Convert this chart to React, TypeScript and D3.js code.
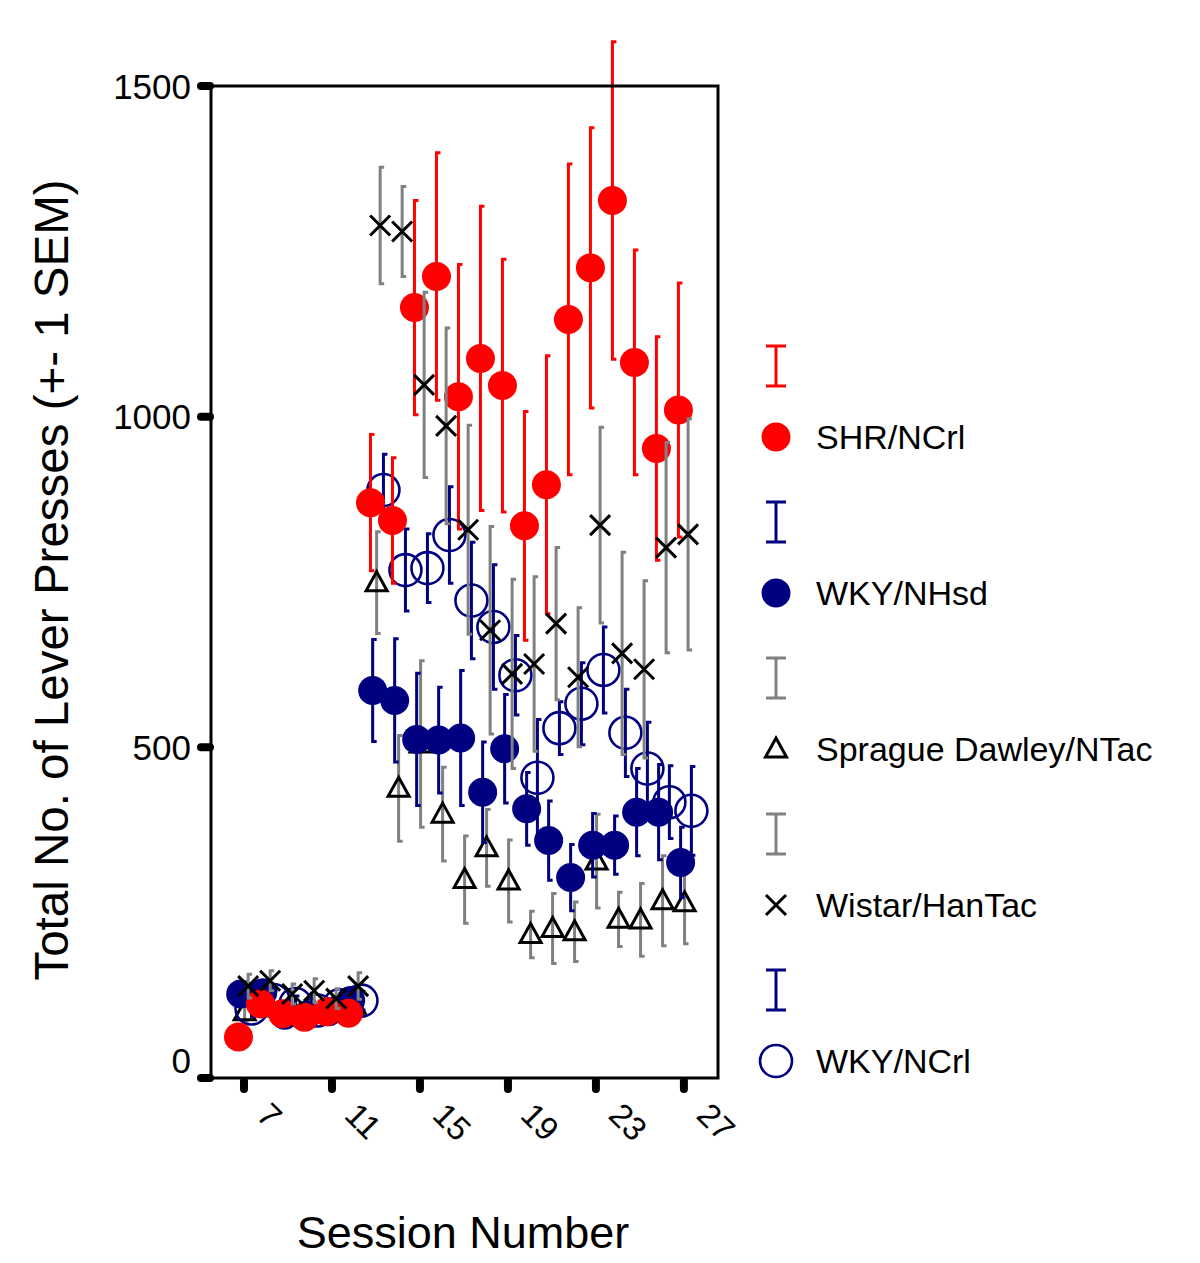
import * as d3 from "d3";

// sessions 7..27
const sessions = [7, 8, 9, 10, 11, 12, 13, 14, 15, 16, 17, 18, 19, 20, 21, 22, 23, 24, 25, 26, 27];

// SHR/NCrl
const shrMean = [62, 112, 97, 92, 100, 98, 870, 843, 1165, 1212, 1030, 1088, 1047, 835, 897, 1147, 1225, 1327, 1082, 952, 1010];
const shrSem = [8, 12, 10, 10, 12, 10, 103, 95, 162, 187, 200, 230, 191, 173, 195, 235, 212, 240, 170, 169, 192];

// WKY/NHsd
const nhsdMean = [127, 129, 95, 95, 100, 117, 586, 571, 512, 511, 514, 432, 498, 407, 359, 303, 352, 352, 402, 402, 326];
const nhsdSem = [12, 15, 10, 10, 10, 12, 77, 93, 100, 80, 102, 76, 82, 55, 60, 50, 48, 44, 66, 72, 53];

// Sprague Dawley/NTac
const sdMean = [100, 108, 105, 110, 105, 110, 749, 438, 505, 399, 300, 348, 298, 217, 226, 221, 328, 240, 239, 268, 265];
const sdSem = [14, 15, 14, 15, 14, 15, 77, 80, 126, 71, 66, 58, 62, 35, 53, 45, 71, 41, 55, 68, 62];

// Wistar/HanTac
const wistarMean = [139, 147, 127, 132, 120, 139, 1289, 1280, 1048, 986, 829, 677, 611, 626, 687, 606, 836, 642, 618, 802, 822];
const wistarSem = [18, 15, 15, 18, 15, 20, 88, 68, 140, 148, 158, 157, 143, 132, 115, 105, 148, 153, 134, 159, 175];

// WKY/NCrl
const ncrlMean = [105, 118, 112, 102, 110, 117, 889, 768, 771, 821, 722, 682, 609, 454, 529, 566, 617, 522, 468, 417, 404];
const ncrlSem = [12, 14, 12, 12, 12, 14, 54, 62, 52, 73, 88, 94, 60, 88, 40, 62, 65, 66, 70, 55, 67];

const yTicks = [0, 500, 1000, 1500];
const xTicks = [7, 11, 15, 19, 23, 27];

const FONT = "'Liberation Sans', Arial, Helvetica, sans-serif";
const RED = "#ff0000";
const NAVY = "#000080";
const GRAY = "#808080";

const x = d3.scaleLinear().domain([5.5, 28.55]).range([211, 718]);
const y = d3.scaleLinear().domain([0, 1500]).range([1078, 86]);

type Marker = "dot" | "ring" | "tri" | "cross";
type Series = { name: string; bar: string; color: string; mean: number[]; sem: number[]; off: number; marker: Marker };

// draw order: bottom to top
const series: Series[] = [
  { name: "Sprague Dawley/NTac", bar: GRAY, color: "#000", mean: sdMean, sem: sdSem, off: 0.03, marker: "tri" },
  { name: "WKY/NCrl", bar: NAVY, color: NAVY, mean: ncrlMean, sem: ncrlSem, off: 0.34, marker: "ring" },
  { name: "WKY/NHsd", bar: NAVY, color: NAVY, mean: nhsdMean, sem: nhsdSem, off: -0.15, marker: "dot" },
  { name: "SHR/NCrl", bar: RED, color: RED, mean: shrMean, sem: shrSem, off: -0.25, marker: "dot" },
  { name: "Wistar/HanTac", bar: GRAY, color: "#000", mean: wistarMean, sem: wistarSem, off: 0.19, marker: "cross" },
];

const legendOrder = ["SHR/NCrl", "WKY/NHsd", "Sprague Dawley/NTac", "Wistar/HanTac", "WKY/NCrl"];

function drawMarker(m: Marker, cx: number, cy: number, color: string, key: string) {
  if (m === "dot") return <circle key={key} cx={cx} cy={cy} r={14.5} fill={color} />;
  if (m === "ring") return <circle key={key} cx={cx} cy={cy} r={16} fill="none" stroke={color} strokeWidth={2.6} />;
  if (m === "tri")
    return (
      <path key={key} d={`M${cx},${cy - 11}L${cx + 10.5},${cy + 8}L${cx - 10.5},${cy + 8}Z`} fill="none" stroke={color} strokeWidth={3} />
    );
  return (
    <path key={key} d={`M${cx - 10},${cy - 10}L${cx + 10},${cy + 10}M${cx + 10},${cy - 10}L${cx - 10},${cy + 10}`} stroke={color} strokeWidth={3} fill="none" />
  );
}

export default function App() {
  return (
    <svg width={1200} height={1263} style={{ position: "absolute", left: 0, top: 0, background: "#fff" }} fontFamily={FONT}>
      <rect width={1200} height={1263} fill="#fff" />

      {/* data */}
      {series.map((s) => (
        <g key={s.name}>
          {sessions.map((d, i) => {
            const cx = x(d + s.off);
            const yt = y(s.mean[i] + s.sem[i]);
            const yb = y(s.mean[i] - s.sem[i]);
            return (
              <path key={"e" + i} d={`M${cx + 4},${yt}H${cx}V${yb}H${cx + 4}`} fill="none" stroke={s.bar} strokeWidth={3} />
            );
          })}
          {sessions.map((d, i) => drawMarker(s.marker, x(d + s.off), y(s.mean[i]), s.color, "m" + i))}
        </g>
      ))}

      {/* frame */}
      <rect x={211} y={86} width={507} height={992} fill="none" stroke="#000" strokeWidth={3} />

      {/* y axis */}
      {yTicks.map((t) => (
        <g key={"y" + t}>
          <line x1={201} x2={210} y1={y(t)} y2={y(t)} stroke="#000" strokeWidth={8} strokeLinecap="round" />
          <text x={191} y={t === 0 ? y(t) - 18 : y(t)} textAnchor="end" dominantBaseline="central" fontSize={35}>
            {t}
          </text>
        </g>
      ))}

      {/* x axis */}
      {xTicks.map((t) => (
        <g key={"x" + t}>
          <line x1={x(t)} x2={x(t)} y1={1081} y2={1089} stroke="#000" strokeWidth={8} strokeLinecap="round" />
          <text transform={`translate(${x(t) + 11},${1117}) rotate(45)`} fontSize={33}>
            {t}
          </text>
        </g>
      ))}

      <text transform="translate(68,580) rotate(-90)" textAnchor="middle" fontSize={47.5}>
        Total No. of Lever Presses (+- 1 SEM)
      </text>
      <text x={463} y={1248} textAnchor="middle" fontSize={45}>
        Session Number
      </text>

      {/* legend */}
      {legendOrder.map((name, k) => {
        const s = series.find((q) => q.name === name)!;
        const by = 366 + k * 156;
        const my = by + 71;
        return (
          <g key={"l" + name}>
            <path d={`M766,${by - 20}H786M776,${by - 20}V${by + 20}M766,${by + 20}H786`} fill="none" stroke={s.bar} strokeWidth={3} />
            {drawMarker(s.marker, 776, my, s.color, "lm")}
            <text x={816} y={my} dominantBaseline="central" fontSize={34}>
              {name}
            </text>
          </g>
        );
      })}
    </svg>
  );
}
